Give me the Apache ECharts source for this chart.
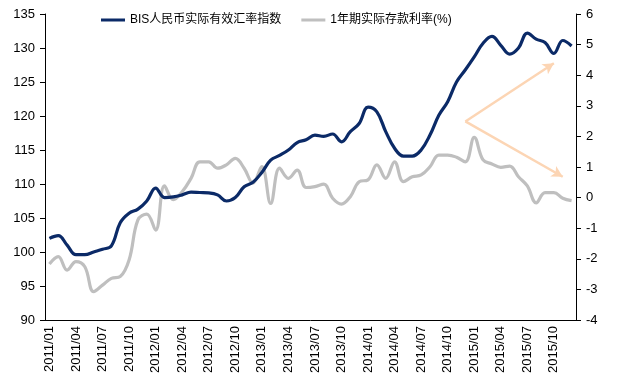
<!DOCTYPE html>
<html><head><meta charset="utf-8">
<script src="https://cdn.jsdelivr.net/npm/echarts@6/dist/echarts.min.js"></script>
<style>html,body{margin:0;padding:0;background:#fff}#c{width:620px;height:387px}</style>
</head><body><div id="c"></div>
<script>
const months = [];
for (let y = 2011; y <= 2015; y++) for (let m = 1; m <= 12; m++) months.push(y + '/' + (m < 10 ? '0' + m : m));

const reerName = 'BIS人民币实际有效汇率指数';
const rateName = '1年期实际存款利率(%)';

const reer = [102.0,102.4,101.0,99.6,99.6,100.0,100.4,100.9,104.3,105.7,106.3,107.5,
  109.4,108.0,108.1,108.4,108.8,108.75,108.7,108.4,107.5,108.0,109.6,110.25,
  111.7,113.5,114.2,115.0,116.1,116.5,117.2,117.0,117.35,116.2,117.7,118.9,
  121.3,120.6,117.7,115.25,114.1,114.1,115.0,117.2,120.1,122.1,125.0,126.8,
  128.7,130.7,131.7,130.4,129.1,130.0,132.2,131.3,130.8,129.2,131.1,130.3];

const rate = [-2.17,-1.93,-2.37,-2.09,-2.26,-3.07,-2.86,-2.64,-2.58,-2.04,-0.73,-0.54,
  -1.06,0.38,-0.07,0.19,0.63,1.17,1.17,0.96,1.07,1.28,0.96,0.47,
  1.01,-0.19,0.96,0.63,0.90,0.33,0.36,0.44,-0.02,-0.21,0.03,0.52,
  0.58,1.07,0.63,1.17,0.52,0.68,0.74,1.01,1.39,1.39,1.32,1.17,
  1.97,1.23,1.10,0.99,1.03,0.68,0.38,-0.17,0.16,0.16,-0.02,-0.10];

const leftTicks = {min: 90, max: 135, interval: 5};
const rightTicks = {min: -4, max: 6, interval: 1};

// annotation arrows in data coordinates (category index, left-axis value)
const arrowOrigin = [47.15, 119.2];
const arrowUp = [56.76, 127.75];
const arrowDown = [57.7, 111.07];

const font = '"Liberation Sans", Arial, "Noto Sans CJK SC", sans-serif';
const chart = echarts.init(document.getElementById('c'));
const axisTxt = {color: '#000', fontSize: 13, fontFamily: font};
chart.setOption({
  animation: false,
  textStyle: {fontFamily: font},
  legend: {
    top: 9, left: 96, itemGap: 20, itemWidth: 24, itemHeight: 3,
    textStyle: {color: '#000', fontSize: 12, fontFamily: font},
    data: [{name: reerName, icon: 'rect'}, {name: rateName, icon: 'rect'}]
  },
  grid: {left: 45, right: 44, top: 14, bottom: 67},
  xAxis: {
    type: 'category', data: months, boundaryGap: true,
    axisLine: {onZero: false, lineStyle: {color: '#000', width: 1}},
    axisTick: {interval: 2, length: 5, lineStyle: {color: '#000'}},
    axisLabel: Object.assign({interval: 2, rotate: 90, margin: 6}, axisTxt)
  },
  yAxis: [
    Object.assign({type: 'value', position: 'left', splitLine: {show: false},
      axisLine: {show: true, lineStyle: {color: '#000'}},
      axisTick: {show: true, length: 5, lineStyle: {color: '#000'}},
      axisLabel: Object.assign({margin: 10}, axisTxt)}, leftTicks),
    Object.assign({type: 'value', position: 'right', splitLine: {show: false},
      axisLine: {show: true, lineStyle: {color: '#000'}},
      axisTick: {show: true, length: 5, lineStyle: {color: '#000'}},
      axisLabel: Object.assign({margin: 10}, axisTxt)}, rightTicks)
  ],
  series: [
    {name: reerName, type: 'line', data: reer, yAxisIndex: 0, smooth: 0.4, symbol: 'none',
     z: 3, color: '#0B2A67', lineStyle: {width: 3.2, color: '#0B2A67'},
     markLine: {
       silent: true, symbol: ['none', 'arrow'], symbolSize: [9, 11],
       label: {show: false},
       lineStyle: {color: '#FCD5B4', width: 2.5, type: 'solid'},
       data: [
         [{coord: arrowOrigin}, {coord: arrowUp}],
         [{coord: arrowOrigin}, {coord: arrowDown}]
       ]
     }},
    {name: rateName, type: 'line', data: rate, yAxisIndex: 1, smooth: 0.4, symbol: 'none',
     z: 2, color: '#BFBFBF', lineStyle: {width: 3.2, color: '#BFBFBF'}}
  ]
});
</script></body></html>
